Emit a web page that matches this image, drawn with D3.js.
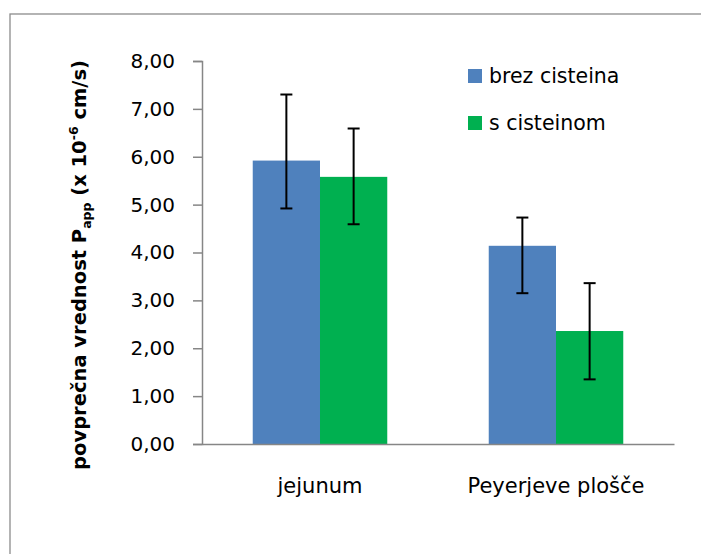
<!DOCTYPE html>
<html><head><meta charset="utf-8">
<script src="https://cdn.jsdelivr.net/npm/d3@7"></script>
<style>body{margin:0;background:#fff}svg{display:block}</style>
</head><body>
<svg id="c" width="701" height="554"></svg>
<script>
const categories = ["jejunum", "Peyerjeve plošče"];
const seriesNames = ["brez cisteina", "s cisteinom"];
const valuesBrez = [5.92, 4.14];
const valuesS = [5.58, 2.36];
const errPlusBrez = [1.38, 0.59];
const errMinusBrez = [1.00, 0.99];
const errPlusS = [1.01, 1.00];
const errMinusS = [0.99, 1.01];
const yTicks = [0, 1, 2, 3, 4, 5, 6, 7, 8];
const colors = ["#4F81BD", "#00B050"];

(function () {
const series = [
  {name: seriesNames[0], values: valuesBrez, plus: errPlusBrez, minus: errMinusBrez, color: colors[0]},
  {name: seriesNames[1], values: valuesS, plus: errPlusS, minus: errMinusS, color: colors[1]}
];

const svg = d3.select("#c");
const FONT = "DejaVu Sans, Liberation Sans, sans-serif";

// outer border
svg.append("rect").attr("x", 10).attr("y", 14).attr("width", 720).attr("height", 600)
  .attr("fill", "none").attr("stroke", "#8c8c8c").attr("stroke-width", 1.3);

const mLeft = 202, mRight = 674, mTop = 61, mBottom = 444;
const y = d3.scaleLinear().domain([0, 8]).range([mBottom, mTop]);
const x0 = d3.scaleBand().domain(categories).range([mLeft, mRight]).paddingInner(0.43).paddingOuter(0.215);
const x1 = d3.scaleBand().domain(seriesNames).range([0, x0.bandwidth()]);

// bars
const g = svg.append("g");
series.forEach(s => {
  categories.forEach((c, i) => {
    g.append("rect")
      .attr("x", x0(c) + x1(s.name))
      .attr("y", y(s.values[i]))
      .attr("width", x1.bandwidth())
      .attr("height", y(0) - y(s.values[i]))
      .attr("fill", s.color);
  });
});

// error bars
series.forEach(s => {
  categories.forEach((c, i) => {
    const cx = x0(c) + x1(s.name) + x1.bandwidth() / 2;
    const hi = y(s.values[i] + s.plus[i]);
    const lo = y(s.values[i] - s.minus[i]);
    const eg = g.append("g").attr("stroke", "#000").attr("stroke-width", 2);
    eg.append("line").attr("x1", cx).attr("x2", cx).attr("y1", hi).attr("y2", lo);
    eg.append("line").attr("x1", cx - 6).attr("x2", cx + 6).attr("y1", hi).attr("y2", hi);
    eg.append("line").attr("x1", cx - 6).attr("x2", cx + 6).attr("y1", lo).attr("y2", lo);
  });
});

// y axis
const yAxis = svg.append("g").attr("transform", `translate(${mLeft},0)`)
  .call(d3.axisLeft(y).tickValues(yTicks).tickSize(9).tickPadding(18)
    .tickFormat(d => d3.format(".2f")(d).replace(".", ",")));
yAxis.select(".domain").attr("stroke", "#868686").attr("stroke-width", 1.5);
yAxis.selectAll(".tick line").attr("stroke", "#868686").attr("stroke-width", 1.5);
yAxis.selectAll(".tick text").attr("font-family", FONT).attr("font-size", 20).attr("fill", "#000");

// x axis
const xAxis = svg.append("g").attr("transform", `translate(0,${mBottom})`)
  .call(d3.axisBottom(x0).tickSize(0).tickPadding(34));
xAxis.select(".domain").attr("stroke", "#868686").attr("stroke-width", 1.5);
xAxis.selectAll(".tick text").attr("font-family", FONT).attr("font-size", 21).attr("fill", "#000");

// y label
const yl = svg.append("text")
  .attr("transform", `translate(86,265) rotate(-90)`)
  .attr("text-anchor", "middle")
  .attr("font-family", FONT).attr("font-size", 19.5).attr("font-weight", "bold").attr("fill", "#000");
yl.append("tspan").text("povprečna vrednost P");
yl.append("tspan").attr("font-size", 12.5).attr("dy", 5).text("app");
yl.append("tspan").attr("dy", -5).text(" (x 10");
yl.append("tspan").attr("font-size", 12.5).attr("dy", -8).text("-6");
yl.append("tspan").attr("dy", 8).text(" cm/s)");

// legend
const lg = svg.append("g");
series.forEach((s, i) => {
  const ly = 76 + i * 47;
  lg.append("rect").attr("x", 468).attr("y", ly - 7).attr("width", 14).attr("height", 14).attr("fill", s.color);
  lg.append("text").attr("x", 489).attr("y", ly).attr("dy", "0.35em")
    .attr("font-family", FONT).attr("font-size", 20.5).attr("fill", "#000").text(s.name);
});
})();
</script>
</body></html>
